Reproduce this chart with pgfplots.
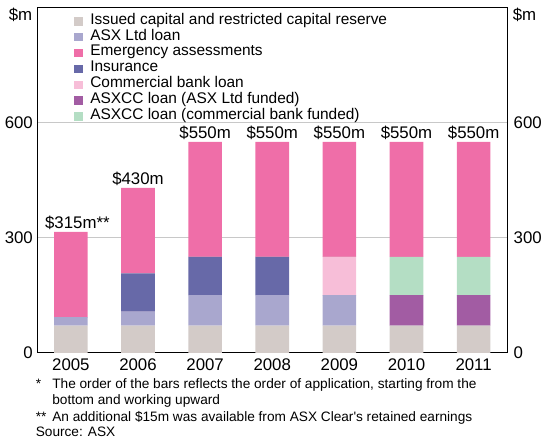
\documentclass[border=0pt]{standalone}
\usepackage{pgfplots}
\pgfplotsset{compat=1.18}
\usepackage{pgfplotstable}
\usepackage{fontspec}
\setmainfont{Liberation Sans}
\definecolor{ccap}{HTML}{D3CBC8}
\definecolor{casx}{HTML}{A9A7CE}
\definecolor{cem}{HTML}{EF6EA8}
\definecolor{cins}{HTML}{6769A8}
\definecolor{cbank}{HTML}{F7BED8}
\definecolor{caxa}{HTML}{A25CA3}
\definecolor{caxb}{HTML}{B4DEC4}
\definecolor{cgrid}{HTML}{C8C8C8}
\newcommand\legsq[1]{\addlegendimage{legend image code/.code={\fill[#1] (0pt,-3.6pt) rectangle (7.4pt,3.8pt);}}}
\newcommand\tickfont{\fontsize{17}{20}\selectfont}

\pgfplotstableread{
x cap asx axa ins bank axb em top lab
0 71 22 0 0 0 0 222 0 {\$315m\rlap{**}}
1 71 36 0 100 0 0 223 0 {\$430m}
2 71 79 0 100 0 0 300 0 {\$550m}
3 71 79 0 100 0 0 300 0 {\$550m}
4 71 79 0 0 100 0 300 0 {\$550m}
5 71 0 79 0 0 100 300 0 {\$550m}
6 71 0 79 0 0 100 300 0 {\$550m}
}\data

\begin{document}
\begin{tikzpicture}
\begin{axis}[name=ax, scale only axis, width=475pt, height=349pt,
  ybar stacked, bar width=0.5, stacked ignores zero=false,
  xmin=-0.5, xmax=6.5, ymin=0, ymax=900,
  axis line style={black, line width=1pt},
  xtick={0,...,6}, xticklabels={2005,2006,2007,2008,2009,2010,2011},
  major x tick style={draw=none},
  extra x ticks={0.5,1.5,2.5,3.5,4.5,5.5}, extra x tick labels={},
  extra x tick style={grid=none, major tick length=5pt, tick align=inside, tick style={black, line width=1pt, draw=black}},
  ytick={0,300,600}, ymajorgrids, grid style={cgrid, line width=0.8pt},
  major y tick style={draw=none},
  ytick style={draw=none},
  tick label style={font=\tickfont},
  /pgf/number format/assume math mode=true,
  xticklabel style={yshift=-3pt},
  yticklabel style={xshift=-1pt},
  clip=false,
  legend style={draw=none, fill=none, at={(0,1)}, anchor=north west, xshift=37.3pt, yshift=-5.7pt,
    inner sep=0pt, row sep=0pt, font=\fontsize{15.6}{16}\selectfont,
    nodes={inner xsep=8.3pt, inner ysep=0pt, text height=11pt, text depth=5pt}},
  legend cell align=left,
]
\addplot[fill=ccap, draw=none, forget plot] table[x=x, y=cap] {\data};
\addplot[fill=casx, draw=none, forget plot] table[x=x, y=asx] {\data};
\addplot[fill=caxa, draw=none, forget plot] table[x=x, y=axa] {\data};
\addplot[fill=cins, draw=none, forget plot] table[x=x, y=ins] {\data};
\addplot[fill=cbank, draw=none, forget plot] table[x=x, y=bank] {\data};
\addplot[fill=caxb, draw=none, forget plot] table[x=x, y=axb] {\data};
\addplot[fill=cem, draw=none, forget plot] table[x=x, y=em] {\data};
\addplot[draw=none, fill=none, forget plot, nodes near coords, point meta=explicit symbolic,
  nodes near coords style={font=\tickfont, anchor=base, inner sep=0pt, yshift=3pt, text=black}] table[x=x, y=top, meta=lab] {\data};
\legsq{ccap}\addlegendentry{Issued capital and restricted capital reserve}
\legsq{casx}\addlegendentry{ASX Ltd loan}
\legsq{cem}\addlegendentry{Emergency assessments}
\legsq{cins}\addlegendentry{Insurance}
\legsq{cbank}\addlegendentry{Commercial bank loan}
\legsq{caxa}\addlegendentry{ASXCC loan (ASX Ltd funded)}
\legsq{caxb}\addlegendentry{ASXCC loan (commercial bank funded)}
\node[anchor=east, font=\tickfont, inner sep=0pt, xshift=-5pt, yshift=-7.4pt] at (rel axis cs:0,1) {\$m};
\node[anchor=west, font=\tickfont, inner sep=0pt, xshift=5.5pt, yshift=-7.4pt] at (rel axis cs:1,1) {\$m};
\end{axis}
\begin{axis}[scale only axis, width=475pt, height=349pt,
  xmin=-0.5, xmax=6.5, ymin=0, ymax=900,
  hide x axis, axis line style={draw=none},
  ytick={0,300,600}, yticklabel pos=right, ytick style={draw=none},
  tick label style={font=\tickfont},
  /pgf/number format/assume math mode=true,
  yticklabel style={xshift=3pt},
]
\addplot[draw=none, forget plot] coordinates {(0,0)};
\end{axis}
\begin{scope}[font=\fontsize{13.8}{16}\selectfont]
\node[anchor=base west, inner sep=0pt] at ([xshift=-1.7pt, yshift=-36.6pt]ax.south west) {*};
\node[anchor=base west, inner sep=0pt] at ([xshift=15pt, yshift=-36.6pt]ax.south west) {The order of the bars reflects the order of application, starting from the};
\node[anchor=base west, inner sep=0pt] at ([xshift=15pt, yshift=-52.6pt]ax.south west) {bottom and working upward};
\node[anchor=base west, inner sep=0pt] at ([xshift=-1.7pt, yshift=-69pt]ax.south west) {**};
\node[anchor=base west, inner sep=0pt] at ([xshift=15pt, yshift=-69pt]ax.south west) {An additional \$15m was available from ASX Clear\textquotesingle s retained earnings};
\node[anchor=base west, inner sep=0pt] at ([xshift=-1.7pt, yshift=-85pt]ax.south west) {Source: ASX};
\end{scope}
\path ([xshift=-37.7pt, yshift=-90.3pt]ax.south west) rectangle ([xshift=32.3pt, yshift=7.6pt]ax.north east);
\end{tikzpicture}
\end{document}
